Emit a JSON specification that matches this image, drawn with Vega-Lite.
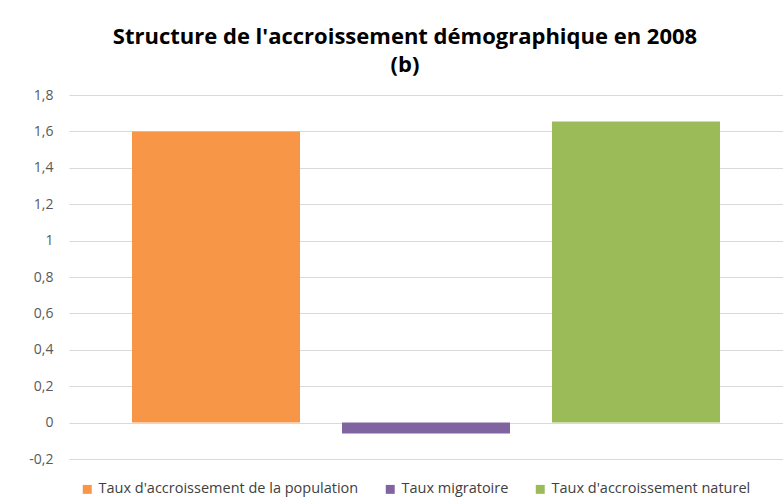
{
  "$schema": "https://vega.github.io/schema/vega-lite/v6.json",
  "autosize": {"type": "none"},
  "width": 714,
  "height": 364,
  "padding": {"left": 69, "top": 95, "right": 0, "bottom": 45},
  "background": "white",
  "title": {
    "text": ["Structure de l'accroissement démographique en 2008", "(b)"],
    "font": "Open Sans",
    "fontSize": 22,
    "fontWeight": "bold",
    "color": "#000000",
    "anchor": "middle",
    "dx": -21,
    "lineHeight": 28,
    "offset": 11
  },
  "data": {
    "values": [
      {"serie": "Taux d'accroissement de la population", "valeur": 1.6},
      {"serie": "Taux migratoire", "valeur": -0.06},
      {"serie": "Taux d'accroissement naturel", "valeur": 1.655}
    ]
  },
  "mark": {"type": "bar"},
  "encoding": {
    "x": {
      "field": "serie",
      "type": "nominal",
      "sort": null,
      "axis": null,
      "scale": {"paddingInner": 0.2, "paddingOuter": 0.3}
    },
    "y": {
      "field": "valeur",
      "type": "quantitative",
      "scale": {"domain": [-0.2, 1.8], "nice": false, "zero": false},
      "axis": {
        "title": null,
        "values": [-0.2, 0, 0.2, 0.4, 0.6, 0.8, 1, 1.2, 1.4, 1.6, 1.8],
        "labelExpr": "replace(replace(format(datum.value, '.1~f'), '.', ','), '−', '-')",
        "domain": false,
        "ticks": false,
        "grid": true,
        "gridColor": "#d9d9d9",
        "gridWidth": 1,
        "labelFont": "Open Sans",
        "labelFontSize": 14,
        "labelColor": "#595959",
        "labelPadding": 16
      }
    },
    "color": {
      "field": "serie",
      "type": "nominal",
      "sort": null,
      "scale": {
        "domain": ["Taux d'accroissement de la population", "Taux migratoire", "Taux d'accroissement naturel"],
        "range": ["#f79646", "#8064a2", "#9bbb59"]
      },
      "legend": {
        "title": null,
        "orient": "none",
        "direction": "horizontal",
        "legendX": 11,
        "legendY": 387,
        "symbolType": "square",
        "symbolSize": 80,
        "symbolStrokeWidth": 0,
        "labelFont": "Open Sans",
        "labelFontSize": 14.5,
        "labelColor": "#404040",
        "labelLimit": 0,
        "columnPadding": 24,
        "labelOffset": 4
      }
    }
  },
  "config": {
    "view": {"stroke": null}
  }
}
